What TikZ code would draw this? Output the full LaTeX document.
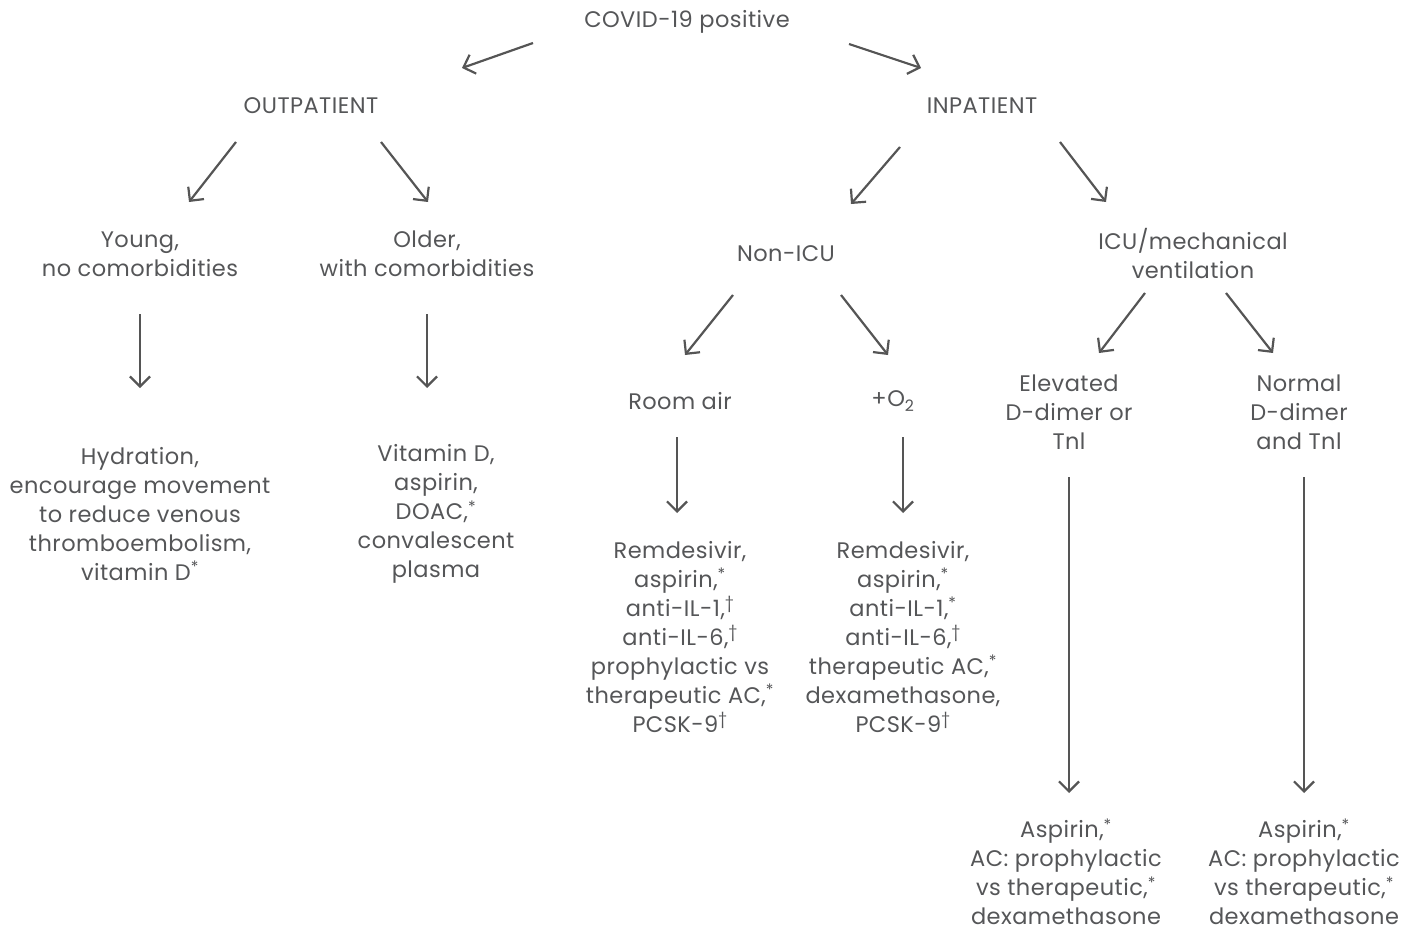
\documentclass[tikz,border=0pt]{standalone}
\usepackage{fontspec}
\setmainfont{Poppins}[LetterSpace=2]
\usetikzlibrary{arrows.meta,calc}
\definecolor{txt}{HTML}{555658}
\definecolor{ln}{HTML}{555555}
\newcommand{\sa}{\textsuperscript{*}}
\newcommand{\sd}{\textsuperscript{†}}
\begin{document}
\begin{tikzpicture}[x=1pt,y=-1pt,
  lbl/.style={align=center, text=txt, font=\fontsize{22.5}{29}\selectfont, inner sep=0pt},
  arr/.style={draw=ln, line width=2.2pt, -{Straight Barb[length=10pt,width=20pt,line width=2.2pt]}}]
\useasboundingbox (0,0) rectangle (1417,931);
\node[lbl] (covid) at (687,22) {COVID-19 positive};
\node[lbl] (out) at (311,106) {OUTPATIENT};
\node[lbl] (in) at (982,106) {INPATIENT};
\node[lbl] (young) at (140,254) {Young,\\no comorbidities};
\node[lbl] (older) at (427,254) {Older,\\with comorbidities};
\node[lbl] (nonicu) at (786,254) {Non-ICU};
\node[lbl] (icu) at (1193,254) {ICU/mechanical\\ventilation};
\node[lbl] (room) at (680,401) {Room air};
\node[lbl] (o2) at (893,401) {+O\textsubscript{2}};
\node[lbl] (elev) at (1069,412) {Elevated\\D-dimer or\\Tnl};
\node[lbl] (normal) at (1299,412) {Normal\\D-dimer\\and Tnl};
\node[lbl] (hyd) at (140,514) {Hydration,\\encourage movement\\to reduce venous\\thromboembolism,\\vitamin D\sa};
\node[lbl] (vitd) at (436,514) {Vitamin D,\\aspirin,\\DOAC,\sa\\convalescent\\plasma};
\node[lbl] (remd1) at (680,637) {Remdesivir,\\aspirin,\sa\\anti-IL-1,\sd\\anti-IL-6,\sd\\prophylactic vs\\therapeutic AC,\sa\\PCSK-9\sd};
\node[lbl] (remd2) at (903,637) {Remdesivir,\\aspirin,\sa\\anti-IL-1,\sa\\anti-IL-6,\sd\\therapeutic AC,\sa\\dexamethasone,\\PCSK-9\sd};
\node[lbl] (asp1) at (1066,872) {Aspirin,\sa\\AC: prophylactic\\vs therapeutic,\sa\\dexamethasone};
\node[lbl] (asp2) at (1304,872) {Aspirin,\sa\\AC: prophylactic\\vs therapeutic,\sa\\dexamethasone};
\draw[arr] ($(covid)+(-154,21)$) -- ($(out)+(151,-38)$);
\draw[arr] ($(covid)+(162,22)$) -- ($(in)+(-61,-38)$);
\draw[arr] ($(out)+(-75,36)$) -- ($(young)+(49,-52)$);
\draw[arr] ($(out)+(70,36)$) -- ($(older)+(1,-52)$);
\draw[arr] ($(in)+(-82,41)$) -- ($(nonicu)+(65,-50)$);
\draw[arr] ($(in)+(78,36)$) -- ($(icu)+(-87,-52)$);
\draw[arr] ($(young)+(0,60)$) -- ($(hyd)+(0,-126)$);
\draw[arr] ($(older)+(0,60)$) -- ($(vitd)+(-9,-126)$);
\draw[arr] ($(nonicu)+(-53,41)$) -- ($(room)+(5,-46)$);
\draw[arr] ($(nonicu)+(55,41)$) -- ($(o2)+(-5,-46)$);
\draw[arr] ($(room)+(-3,36)$) -- ($(remd1)+(-3,-124)$);
\draw[arr] ($(o2)+(10,36)$) -- ($(remd2)+(0,-124)$);
\draw[arr] ($(icu)+(-48,39)$) -- ($(elev)+(30,-59)$);
\draw[arr] ($(icu)+(33,39)$) -- ($(normal)+(-26,-59)$);
\draw[arr] ($(elev)+(0,65)$) -- ($(asp1)+(3,-79)$);
\draw[arr] ($(normal)+(5,65)$) -- ($(asp2)+(0,-79)$);
\end{tikzpicture}
\end{document}
